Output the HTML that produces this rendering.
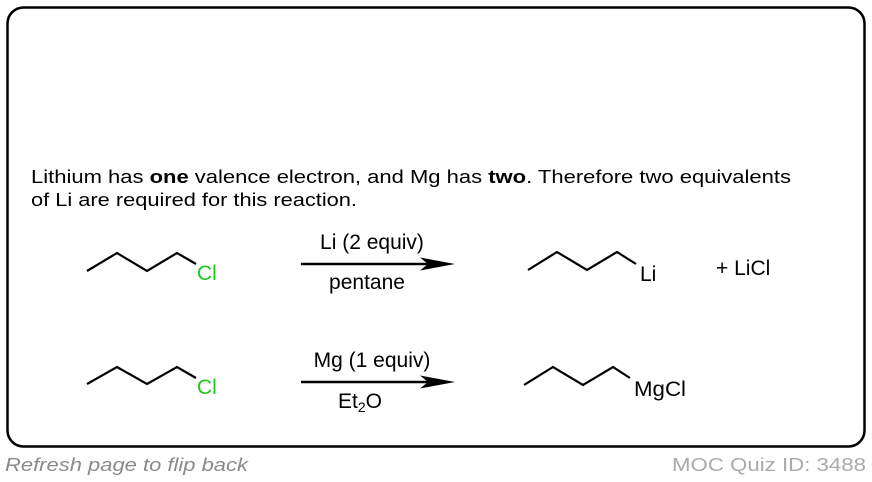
<!DOCTYPE html>
<html><head><meta charset="utf-8"><style>
html,body{margin:0;padding:0;background:#fff;}
svg{display:block;font-family:"Liberation Sans",Arial,sans-serif;}
</style></head><body>
<svg width="872" height="482" viewBox="0 0 872 482" xmlns="http://www.w3.org/2000/svg">
<rect x="7.5" y="7.5" width="857" height="439" rx="16" fill="#fff" stroke="#000" stroke-width="2.5"/>
<text x="31" y="183" font-size="18.5" textLength="760" lengthAdjust="spacingAndGlyphs">Lithium has <tspan font-weight="bold">one</tspan> valence electron, and Mg has <tspan font-weight="bold">two</tspan>. Therefore two equivalents</text>
<text x="31" y="206" font-size="18.5" textLength="326" lengthAdjust="spacingAndGlyphs">of Li are required for this reaction.</text>
<g fill="none" stroke="#000" stroke-width="2.2" stroke-linejoin="miter">
<polyline points="87,271 117,253 147,271 177,253 196,264"/>
<polyline points="87,384 117,367 147,384 177,367 196,378"/>
<polyline points="528,270 557,252 587,270 617,252 636,264"/>
<polyline points="524,385 553,367 583,385 613,367 630,378"/>
<line x1="301" y1="264" x2="435" y2="264" stroke-width="2.5"/>
<line x1="301" y1="382" x2="435" y2="382" stroke-width="2.5"/>
</g>
<polygon points="455,264 420,257.5 428,264 420,270.5" fill="#000"/>
<polygon points="455,382 420,375.5 428,382 420,388.5" fill="#000"/>
<g font-size="21">
<text x="197" y="280" fill="#1ec81e">Cl</text>
<text x="197" y="394" fill="#1ec81e">Cl</text>
<text x="372" y="249" text-anchor="middle">Li (2 equiv)</text>
<text x="367" y="289" text-anchor="middle">pentane</text>
<text x="372" y="367" text-anchor="middle">Mg (1 equiv)</text>
<text x="338" y="408">Et<tspan font-size="14" dy="4">2</tspan><tspan dy="-4">O</tspan></text>
<text x="640" y="281">Li</text>
<text x="716" y="275">+ LiCl</text>
<text x="634" y="396" textLength="52" lengthAdjust="spacingAndGlyphs">MgCl</text>
</g>
<text x="5" y="471" font-size="18" font-style="italic" fill="#8a8a8a" textLength="243" lengthAdjust="spacingAndGlyphs">Refresh page to flip back</text>
<text x="672" y="471" font-size="18" fill="#aaa" textLength="194" lengthAdjust="spacingAndGlyphs">MOC Quiz ID: 3488</text>
</svg>
</body></html>
